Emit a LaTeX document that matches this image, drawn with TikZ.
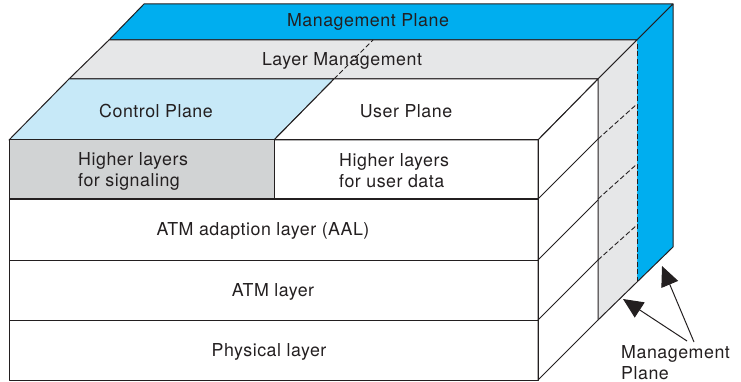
\documentclass[tikz,border=0pt]{standalone}
\usepackage{fontspec}
\setmainfont{TeX Gyre Heros}[LetterSpace=3]
\usetikzlibrary{arrows.meta}

\definecolor{mgmtblue}{HTML}{00AEEF}
\definecolor{ctrlblue}{HTML}{C7E9F8}
\definecolor{lmgray}{HTML}{E6E7E8}
\definecolor{siggray}{HTML}{D1D3D4}
\definecolor{ink}{HTML}{231F20}

\begin{document}
\begin{tikzpicture}[x=1pt, y=-1pt, line join=round,
  edge/.style={draw=ink, line width=1pt},
  hidden/.style={draw=ink, line width=0.9pt, dash pattern=on 5pt off 2.5pt},
  lbl/.style={text=ink, font=\fontsize{17.8}{21}\selectfont, inner sep=0pt},
  pointer/.style={draw=ink, line width=1pt, -{Triangle[length=20pt,width=18pt]}}]
\useasboundingbox (0,0) rectangle (741,382);

% ---- corner points of the cube ----
% front face
\coordinate (FTL) at (9,140);   \coordinate (FTR) at (538,140);
\coordinate (FBL) at (9,380);   \coordinate (FBR) at (538,380);
\coordinate (FMid) at (274,140);
% back edge of the control / user plane slab
\coordinate (CTL) at (69,79);   \coordinate (CTR) at (598,79);
\coordinate (CMid) at (334,79); \coordinate (CBR) at (598,320);
% back edge of the layer management slab
\coordinate (LTL) at (109,40);  \coordinate (LTR) at (637,40);
\coordinate (LMid) at (373,40); \coordinate (LBR) at (637,282);
% back edge of the management plane slab
\coordinate (MTL) at (144,4);   \coordinate (MTR) at (673,4);
\coordinate (MBR) at (673,247);

% ---- management plane (top strip and side) ----
\fill[mgmtblue] (LTL) -- (LTR) -- (MTR) -- (MTL) -- cycle;
\draw[edge] (LTL) -- (LTR) -- (MTR) -- (MTL) -- cycle;
\fill[mgmtblue] (LTR) -- (MTR) -- (MBR) -- (LBR) -- cycle;
\draw[edge] (LTR) -- (MTR) -- (MBR) -- (LBR);

% ---- layer management (top strip and side) ----
\fill[lmgray] (CTL) -- (CTR) -- (LTR) -- (LTL) -- cycle;
\draw[edge] (CTL) -- (CTR) -- (LTR) -- (LTL) -- cycle;
\fill[lmgray] (CTR) -- (LTR) -- (LBR) -- (CBR) -- cycle;
\draw[edge] (CTR) -- (LTR);
\draw[edge] (CBR) -- (LBR);
\draw[hidden] (LTR) ++(0,4) -- (LBR);
\draw[hidden] (CMid) -- (LMid);

% ---- control plane and user plane (top faces) ----
\fill[ctrlblue] (FTL) -- (FMid) -- (CMid) -- (CTL) -- cycle;
\draw[edge] (FTL) -- (FMid) -- (CMid) -- (CTL) -- cycle;
\fill[white] (FMid) -- (FTR) -- (CTR) -- (CMid) -- cycle;
\draw[edge] (FMid) -- (FTR) -- (CTR) -- (CMid) -- cycle;

% ---- right side of the layer stack ----
\fill[white] (FTR) -- (CTR) -- (CBR) -- (FBR) -- cycle;
\draw[edge] (FTR) -- (CTR) -- (CBR) -- (FBR) -- cycle;
\foreach \y in {199,260,320} {
  \draw[edge] (538,\y) -- (598,\y-60);
}
\foreach \y in {139,199,260} {
  \draw[hidden] (598,\y) -- (637,\y-35);
}

% ---- front face: the protocol layers ----
\fill[siggray] (FTL) rectangle (274,199);
\draw[edge] (FTL) rectangle (FBR);
\draw[edge] (FMid) -- (274,199);
\foreach \y in {199,260,320} {
  \draw[edge] (9,\y) -- (538,\y);
}

% ---- labels ----
\node[lbl] (mp)   at (368,22)  {Management Plane};
\node[lbl] (lm)   at (342,61)  {Layer Management};
\node[lbl] (cp)   at (156,111) {Control Plane};
\node[lbl] (up)   at (406,111) {User Plane};
\node[lbl, align=left, anchor=west] (hls) at (78,171)
  {Higher layers\\for signaling};
\node[lbl, align=left, anchor=west] (hlu) at (339,171)
  {Higher layers\\for user data};
\node[lbl] (aal)  at (263,231) {ATM adaption layer (AAL)};
\node[lbl] (atm)  at (273,292)   {ATM layer};
\node[lbl] (phy)  at (269,352)   {Physical layer};

% ---- side label with pointers ----
\node[lbl, align=left, anchor=north west] (side) at (621,345)
  {Management\\Plane};
\coordinate (tipLM) at (623,299);
\coordinate (tipMP) at (662,266);
\draw[pointer] (687,341) -- (tipLM);
\draw[pointer] (694,342) -- (tipMP);
\end{tikzpicture}
\end{document}
